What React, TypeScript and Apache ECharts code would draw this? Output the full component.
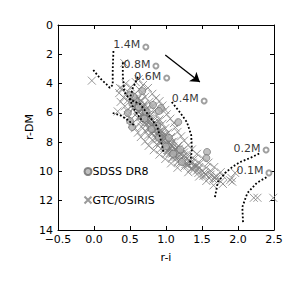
import React, { useEffect, useRef } from "react";
import * as echarts from "echarts";

const xTicks = [-0.5, 0.0, 0.5, 1.0, 1.5, 2.0, 2.5];
const yTicks = [0, 2, 4, 6, 8, 10, 12, 14];

const gtcPoints: number[][] = [
  [-0.03, 3.8], [0.42, 2.6], [0.36, 4.3], [0.33, 5.9], [2.22, 11.8], [2.27, 11.8], [2.49, 11.8],
  [0.44, 4.0], [0.58, 3.9], [0.68, 4.1], [0.62, 3.7],
  [0.39, 4.35], [0.51, 4.25], [0.63, 4.4], [0.75, 4.3],
  [0.35, 4.65], [0.47, 4.55], [0.57, 4.7], [0.67, 4.6], [0.81, 4.7],
  [0.41, 4.95], [0.49, 4.85], [0.61, 5.0], [0.71, 4.9], [0.86, 5.0],
  [0.37, 5.25], [0.47, 5.15], [0.57, 5.3], [0.66, 5.2], [0.77, 5.25], [0.91, 5.2],
  [0.43, 5.55], [0.53, 5.45], [0.61, 5.6], [0.69, 5.5], [0.81, 5.55], [0.95, 5.5],
  [0.46, 5.85], [0.54, 5.75], [0.64, 5.9], [0.73, 5.8], [0.84, 5.85], [0.99, 5.8],
  [0.47, 6.15], [0.59, 6.05], [0.67, 6.2], [0.76, 6.1], [0.87, 6.15], [1.01, 6.1],
  [0.51, 6.45], [0.61, 6.35], [0.71, 6.5], [0.79, 6.4], [0.91, 6.45], [1.06, 6.4],
  [0.53, 6.75], [0.64, 6.65], [0.73, 6.8], [0.83, 6.7], [0.95, 6.75], [1.11, 6.7],
  [0.57, 7.05], [0.66, 6.95], [0.77, 7.1], [0.87, 7.0], [0.99, 7.05], [1.13, 7.0],
  [0.61, 7.35], [0.71, 7.25], [0.81, 7.4], [0.91, 7.3], [1.03, 7.35], [1.16, 7.3],
  [0.65, 7.65], [0.75, 7.55], [0.86, 7.7], [0.96, 7.6], [1.07, 7.65], [1.21, 7.6],
  [0.71, 7.95], [0.81, 7.85], [0.91, 8.0], [1.01, 7.9], [1.11, 7.95], [1.25, 7.9],
  [0.76, 8.25], [0.87, 8.15], [0.97, 8.3], [1.07, 8.2], [1.17, 8.25], [1.31, 8.2],
  [0.83, 8.55], [0.93, 8.45], [1.03, 8.6], [1.13, 8.5], [1.23, 8.55], [1.36, 8.5],
  [0.91, 8.85], [1.01, 8.75], [1.11, 8.9], [1.21, 8.8], [1.31, 8.85], [1.43, 8.8],
  [0.99, 9.15], [1.09, 9.05], [1.19, 9.2], [1.29, 9.1], [1.39, 9.15], [1.51, 9.1],
  [1.07, 9.45], [1.17, 9.35], [1.27, 9.5], [1.37, 9.4], [1.47, 9.45], [1.59, 9.4],
  [1.16, 9.75], [1.26, 9.65], [1.36, 9.8], [1.46, 9.7], [1.56, 9.75], [1.67, 9.7],
  [1.31, 10.05], [1.43, 9.95], [1.53, 10.1], [1.63, 10.0], [1.76, 10.05], [1.96, 10.1],
  [1.46, 10.35], [1.56, 10.25], [1.67, 10.4], [1.79, 10.3], [1.91, 10.45],
  [1.56, 10.65], [1.66, 10.55], [1.76, 10.7], [1.89, 10.6],
  [1.66, 10.95], [1.79, 10.85], [1.92, 10.7],
  [0.6, 5.1], [0.65, 5.7], [0.7, 6.0], [0.72, 6.3], [0.78, 6.6], [0.8, 6.9], [0.85, 7.2],
  [0.9, 7.5], [0.95, 7.8], [1.0, 8.1], [1.05, 8.4], [1.1, 8.7], [1.15, 9.0], [1.22, 9.3],
  [1.3, 9.6], [1.38, 9.9], [0.88, 6.9], [0.93, 7.2], [0.98, 7.5], [1.08, 8.0], [1.15, 8.4],
  [1.25, 8.9], [1.33, 9.3], [1.42, 9.6],
  [0.55, 5.05], [0.65, 5.15], [0.6, 5.35], [0.7, 5.4], [0.56, 5.6], [0.66, 5.75], [0.74, 5.65], [0.62, 5.95],
  [0.68, 6.05], [0.78, 6.2], [0.64, 6.3], [0.74, 6.45], [0.82, 6.55], [0.7, 6.7], [0.8, 6.85], [0.9, 6.6],
  [0.76, 7.1], [0.86, 7.15], [0.94, 7.3], [0.8, 7.45], [0.9, 7.55], [1.0, 7.5], [0.88, 7.8], [0.98, 7.85], [1.06, 7.75],
  [0.92, 8.05], [1.02, 8.15], [1.1, 8.3], [0.98, 8.4], [1.08, 8.55], [1.18, 8.45], [1.05, 8.75], [1.15, 8.85], [1.25, 8.7],
  [1.12, 9.0], [1.22, 9.1], [1.32, 9.25], [1.2, 9.4], [1.3, 9.5], [1.4, 9.55], [1.35, 9.8], [1.45, 9.85],
  [1.45, 10.1], [1.55, 10.2], [1.6, 10.45], [1.7, 10.5],
  [0.58, 5.22], [0.63, 5.48], [0.68, 5.58], [0.6, 5.82], [0.7, 5.88], [0.66, 6.12], [0.73, 6.18], [0.69, 6.42],
  [0.77, 6.38], [0.75, 6.62], [0.84, 6.68], [0.77, 6.92], [0.85, 6.98], [0.82, 7.22], [0.9, 7.28], [0.86, 7.42],
  [0.95, 7.45], [0.92, 7.68], [1.0, 7.72], [0.95, 7.95], [1.04, 7.98], [1.0, 8.22], [1.08, 8.25], [1.04, 8.48],
  [1.12, 8.52], [1.09, 8.78], [1.18, 8.72], [1.15, 9.12], [1.24, 9.02], [1.26, 9.28], [1.34, 9.42], [1.4, 9.7],
  [1.5, 9.95], [1.52, 10.3], [1.62, 10.22], [1.7, 10.32],
];

const sdssPoints: number[][] = [
  [0.62, 5.6], [0.7, 6.4], [0.8, 7.1], [0.9, 7.7], [1.0, 8.3], [1.1, 8.8], [1.22, 9.35],
  [0.72, 5.9], [0.88, 6.9], [1.04, 7.7], [1.2, 8.5], [0.58, 5.2], [0.55, 4.9],
  [0.5, 4.78], [0.67, 4.51], [0.82, 5.46], [0.93, 5.67], [0.9, 5.87], [0.47, 6.01],
  [0.53, 5.33], [0.53, 6.97], [0.5, 6.56], [1.17, 6.63], [1.57, 8.67], [1.56, 9.08],
];

const track14: number[][] = [[-0.01, 3.07], [0.08, 3.62], [0.17, 4.03], [0.22, 4.3], [0.26, 4.1], [0.26, 3.07], [0.27, 1.75]];
const track08: number[][] = [[0.4, 2.55], [0.4, 3.45], [0.42, 4.58], [0.5, 5.1], [0.64, 5.4], [0.78, 6.3], [0.88, 6.95], [0.94, 8.1], [0.97, 8.8]];
const track06: number[][] = [[0.61, 3.55], [0.54, 4.3], [0.5, 5.0], [0.53, 5.5], [0.6, 6.1], [0.68, 6.6]];
const track04: number[][] = [[1.08, 5.26], [1.19, 5.94], [1.29, 6.63], [1.35, 7.51], [1.36, 8.54], [1.33, 9.56]];
const track02: number[][] = [[1.68, 11.75], [1.72, 10.72], [1.82, 10.11], [1.92, 9.7], [2.03, 9.36], [2.17, 9.08], [2.31, 8.74]];
const track01: number[][] = [[2.07, 13.46], [2.06, 12.43], [2.13, 11.48], [2.26, 10.79], [2.4, 10.38]];
const trackLow: number[][] = [[0.26, 6.01], [0.36, 6.15], [0.47, 6.49], [0.57, 6.9]];

const massLabels = ["1.4M", "0.8M", "0.6M", "0.4M", "0.2M", "0.1M"];
const massX = [0.72, 0.86, 1.01, 1.53, 2.39, 2.43];
const massY = [1.5, 2.8, 3.62, 5.19, 8.54, 10.1];

const arrowFrom = [0.99, 2.05];
const arrowTo = [1.47, 3.89];

const crossPath = "path://M0,0L10,10M10,0L0,10";

export default function App() {
  const ref = useRef<HTMLDivElement>(null);
  useEffect(() => {
    if (!ref.current) return;
    const chart = echarts.init(ref.current, undefined, { renderer: "svg" });
    const mkTrack = (d: number[][]) => ({
      type: "line",
      data: d,
      showSymbol: false,
      symbol: "none",
      lineStyle: { color: "#000", width: 1.8, type: [1.8, 2.0] },
      z: 5,
      silent: true,
    });
    const fmtX = (v: number) => v.toFixed(1).replace("-", "\u2212");
    const axisLine = () => ({ show: true, onZero: false, lineStyle: { color: "#000" } });
    const axisTick = () => ({ show: true, inside: true, length: 4, lineStyle: { color: "#000" } });
    chart.setOption({
      animation: false,
      textStyle: { fontFamily: "DejaVu Sans" },
      grid: { left: 58, right: 14, top: 25, bottom: 58 },
      legend: {
        data: [{ name: "SDSS DR8" }, { name: "GTC/OSIRIS" }],
        orient: "vertical",
        left: 77,
        top: 161,
        itemWidth: 7,
        itemHeight: 7,
        itemGap: 17,
        textStyle: { fontSize: 11, color: "#000", padding: [0, 0, 0, -4] },
      },
      graphic: [
        {
          type: "group",
          x: 29,
          y: 127,
          rotation: Math.PI / 2,
          children: [
            {
              type: "text",
              x: 0,
              y: 0,
              style: {
                text: "r-DM",
                fontSize: 11,
                fontFamily: "DejaVu Sans",
                fill: "#000",
                align: "center",
                verticalAlign: "middle",
              },
            },
          ],
        },
      ],
      xAxis: [
        {
          type: "value",
          min: -0.5,
          max: 2.5,
          interval: 0.5,
          name: "r-i",
          nameLocation: "middle",
          nameGap: 22,
          nameTextStyle: { fontSize: 11, color: "#000" },
          axisLine: axisLine(),
          axisTick: axisTick(),
          axisLabel: { color: "#000", fontSize: 11, margin: 4, formatter: fmtX },
          splitLine: { show: false },
        },
        {
          type: "value",
          position: "top",
          min: -0.5,
          max: 2.5,
          interval: 0.5,
          axisLine: axisLine(),
          axisTick: axisTick(),
          axisLabel: { show: false },
          splitLine: { show: false },
        },
      ],
      yAxis: [
        {
          type: "value",
          position: "left",
          inverse: true,
          min: 0,
          max: 14,
          interval: 2,
          axisLine: axisLine(),
          axisTick: axisTick(),
          axisLabel: { color: "#000", fontSize: 11, margin: 5 },
          splitLine: { show: false },
        },
        {
          type: "value",
          position: "right",
          inverse: true,
          min: 0,
          max: 14,
          interval: 2,
          axisLine: axisLine(),
          axisTick: axisTick(),
          axisLabel: { show: false },
          splitLine: { show: false },
        },
      ],
      series: [
        {
          name: "GTC/OSIRIS",
          type: "scatter",
          data: gtcPoints,
          symbol: crossPath,
          symbolSize: 8,
          itemStyle: { color: "none", borderColor: "#808080", borderWidth: 1 },
          z: 2,
        },
        {
          name: "SDSS DR8",
          type: "scatter",
          data: sdssPoints,
          symbol: "circle",
          symbolSize: 7,
          itemStyle: { color: "#b0b0b0", borderColor: "#6a6a6a", borderWidth: 0.8 },
          z: 3,
        },
        mkTrack(track14),
        mkTrack(track08),
        mkTrack(track06),
        mkTrack(track04),
        mkTrack(track02),
        mkTrack(track01),
        mkTrack(trackLow),
        {
          type: "scatter",
          data: massLabels.map((n, i) => ({ name: n, value: [massX[i], massY[i]] })),
          symbol: "emptyCircle",
          symbolSize: 5,
          itemStyle: { color: "#888", borderWidth: 0.8 },
          label: {
            show: true,
            position: "left",
            distance: 2,
            formatter: "{b}",
            fontSize: 11,
            color: "#000",
            offset: [0, -2],
          },
          z: 6,
        },
        {
          type: "lines",
          coordinateSystem: "cartesian2d",
          data: [{ coords: [arrowFrom, arrowTo] }],
          symbol: ["none", "arrow"],
          symbolSize: 9,
          lineStyle: { color: "#000", width: 1.3, opacity: 1 },
          z: 7,
        },
      ],
    });
    return () => chart.dispose();
  }, []);
  return (
    <div
      ref={ref}
      style={{ position: "fixed", left: 0, top: 0, width: 288, height: 288, background: "#fff" }}
    />
  );
}
